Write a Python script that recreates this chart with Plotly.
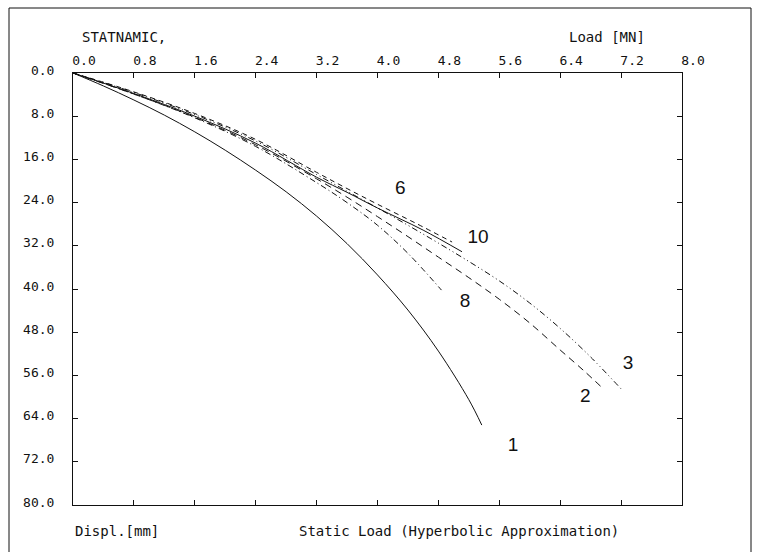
import plotly.graph_objects as go

# Static load-displacement curves (hyperbolic approximation) derived from STATNAMIC tests
load_1 = [0.0, 0.4, 0.8, 1.2, 1.6, 2.0, 2.4, 2.8, 3.2, 3.6, 4.0, 4.4, 4.8, 5.2, 5.37]
disp_1 = [0.0, 2.4, 5.0, 7.8, 10.9, 14.3, 18.0, 22.0, 26.5, 31.6, 37.4, 43.9, 51.5, 60.5, 65.2]

load_2 = [0.0, 0.8, 1.6, 2.4, 3.2, 3.6, 4.0, 4.4, 4.8, 5.2, 5.6, 6.0, 6.4, 6.7, 6.93]
disp_2 = [0.0, 3.9, 8.2, 13.3, 19.6, 23.0, 26.6, 30.3, 34.1, 37.9, 41.9, 46.3, 51.3, 55.0, 58.0]

load_3 = [0.0, 0.8, 1.6, 2.4, 3.2, 3.6, 4.0, 4.4, 4.8, 5.2, 5.6, 6.0, 6.4, 6.8, 7.2]
disp_3 = [0.0, 3.6, 7.7, 12.6, 18.8, 21.9, 25.0, 28.2, 31.5, 34.9, 38.5, 42.6, 47.3, 52.6, 58.5]

load_6 = [0.0, 0.8, 1.6, 2.4, 3.2, 3.6, 4.0, 4.5, 4.98]
disp_6 = [0.0, 3.5, 7.5, 12.3, 18.4, 21.4, 24.3, 27.8, 31.3]

load_8 = [0.0, 0.8, 1.6, 2.4, 3.2, 3.6, 4.0, 4.4, 4.84]
disp_8 = [0.0, 3.9, 8.3, 13.6, 20.3, 24.0, 28.2, 33.4, 40.2]

load_10 = [0.0, 0.8, 1.6, 2.4, 3.2, 3.6, 4.0, 4.6, 5.11]
disp_10 = [0.0, 3.8, 8.0, 13.0, 19.3, 22.1, 25.0, 29.1, 33.1]

curve_names = ["1", "2", "3", "6", "8", "10"]
label_load = [5.78, 6.73, 7.29, 4.30, 5.15, 5.32]
label_disp = [69.1, 60.0, 53.9, 21.5, 42.4, 30.6]

x_ticks = [0.0, 0.8, 1.6, 2.4, 3.2, 4.0, 4.8, 5.6, 6.4, 7.2, 8.0]
y_ticks = [0.0, 8.0, 16.0, 24.0, 32.0, 40.0, 48.0, 56.0, 64.0, 72.0, 80.0]

MONO = "DejaVu Sans Mono"
INK = "#111111"

series = [
    (load_1, disp_1, "solid"),
    (load_2, disp_2, "7px,5px"),
    (load_3, disp_3, "6px,3px,1px,3px,1px,3px"),
    (load_6, disp_6, "5px,4px"),
    (load_8, disp_8, "6px,3px,1px,3px"),
    (load_10, disp_10, "solid"),
]

fig = go.Figure()
for (xs, ys, dash), name in zip(series, curve_names):
    fig.add_trace(go.Scatter(
        x=xs, y=ys, mode="lines", name=name,
        line=dict(color=INK, width=1, dash=dash, shape="spline", smoothing=1.0),
        hoverinfo="skip",
    ))

fig.add_trace(go.Scatter(
    x=label_load, y=label_disp, mode="text", text=curve_names,
    textfont=dict(family="Liberation Sans, Arial", size=19, color=INK),
    hoverinfo="skip",
))

axis_common = dict(
    showgrid=False, zeroline=False, showline=True, linecolor=INK, linewidth=1,
    mirror="ticks", ticks="inside", ticklen=5, tickcolor=INK, tickwidth=1,
    tickformat=".1f", tickfont=dict(family=MONO, size=13, color=INK),
)

fig.update_layout(
    width=759, height=552, autosize=False,
    margin=dict(l=73, r=77, t=73, b=47),
    paper_bgcolor="white", plot_bgcolor="white",
    showlegend=False,
    xaxis=dict(axis_common, side="top", range=[0, 8], tickvals=x_ticks,
               ticklabelshift=11, ticklabelstandoff=2),
    yaxis=dict(axis_common, range=[80, 0], tickvals=y_ticks,
               ticklabelstandoff=15, ticklabelshift=3),
)

annotations = [
    dict(text="STATNAMIC,", x=80, y=37, xanchor="left"),
    dict(text="Load [MN]", x=567, y=37, xanchor="left"),
    dict(text="Displ.[mm]", x=73, y=531, xanchor="left"),
    dict(text="Static Load (Hyperbolic Approximation)", x=297, y=531, xanchor="left"),
]
pl, pr, pt, pb = 73, 759 - 77, 73, 552 - 47
for a in annotations:
    fig.add_annotation(
        text=a["text"], xref="paper", yref="paper",
        x=(a["x"] - pl) / (pr - pl), y=(pb - a["y"]) / (pb - pt),
        xanchor=a["xanchor"], yanchor="middle", showarrow=False,
        font=dict(family=MONO, size=14, color=INK),
    )

# outer frame around the whole drawing
fig.add_shape(
    type="rect", xref="paper", yref="paper",
    x0=(9 - pl) / (pr - pl), x1=(751 - pl) / (pr - pl),
    y0=(pb - 570) / (pb - pt), y1=(pb - 8) / (pb - pt),
    line=dict(color=INK, width=1), layer="above",
)

fig.write_html("out.html")
